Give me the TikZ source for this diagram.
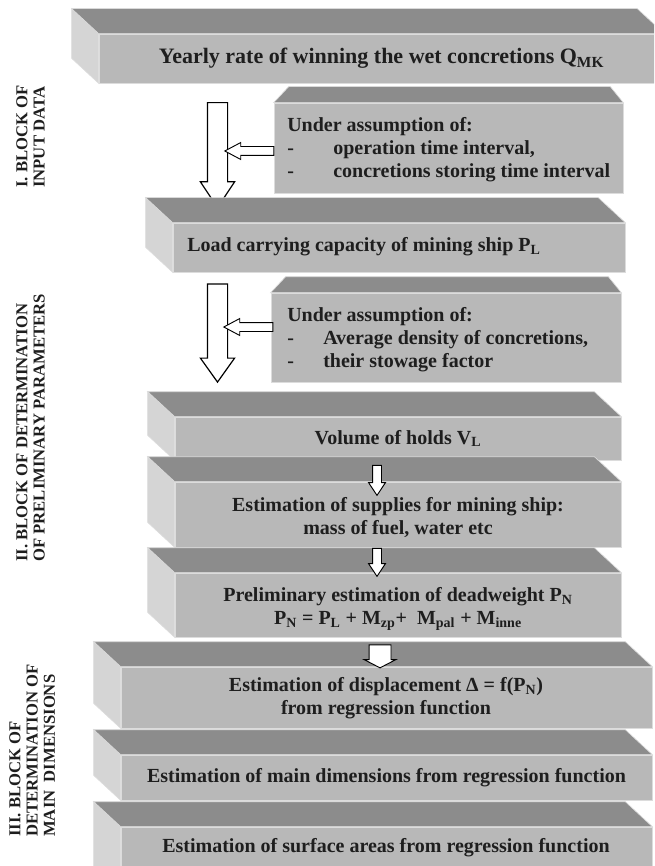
\documentclass[tikz,border=0pt]{standalone}
\usepackage{fontspec}
\setmainfont{Liberation Serif}
\usetikzlibrary{shapes.arrows,fit,calc}
\newcommand{\pxu}{0.75pt}
\definecolor{topgray}{HTML}{8C8C8C}
\definecolor{frontgray}{HTML}{B8B8B8}
\definecolor{sidegray}{HTML}{D5D5D5}
\definecolor{edgegray}{HTML}{DCDCDC}
\definecolor{inkgray}{HTML}{1E1E1E}
\tikzset{
    %faces of the slabs
    front/.style={
           rectangle,
           fill=frontgray,
           draw=edgegray, line width=0.5pt,
           inner sep=0pt},
    topface/.style={
           fill=topgray,
           draw=edgegray, line width=0.5pt},
    sideface/.style={
           fill=sidegray,
           draw=edgegray, line width=0.5pt},
    %text on the slabs
    boxtext/.style={
           font=\fontsize{15}{17.25}\selectfont\bfseries,
           text=inkgray,
           align=center,
           inner sep=0pt},
    listtext/.style={
           boxtext,
           align=left,
           anchor=west},
    blocklabel/.style={
           rotate=90,
           anchor=north west,
           align=left,
           inner sep=0pt,
           font=\fontsize{12.5}{13}\selectfont\bfseries,
           text=inkgray},
    %block arrows
    bigarrow/.style={
           single arrow,
           rotate=-90,
           draw=black, fill=white,
           line width=0.9pt,
           inner xsep=0pt, inner ysep=9.5*\pxu,
           minimum width=0pt,
           single arrow head extend=7*\pxu,
           single arrow head indent=0pt},
    smallarrow/.style={
           single arrow,
           draw=black, fill=white,
           line width=0.7pt,
           inner xsep=0pt, inner ysep=4*\pxu,
           minimum width=0pt,
           single arrow head extend=4*\pxu,
           single arrow head indent=0pt}
}
% slab: front face with top and left faces
\newcommand{\slab}[5]{%
  \node[front, fit={(#2,#3) (#4,#5)}] (#1) {};
  \filldraw[sideface] (#1.north west) -- ++(-27,-25) -- ([shift={(-27,-25)}]#1.south west) -- (#1.south west) -- cycle;
  \filldraw[topface] (#1.north west) -- ++(-27,-25) -- ([shift={(-27,-25)}]#1.north east) -- (#1.north east) -- cycle;
}
% tray: front face with a narrowing top face
\newcommand{\tray}[5]{%
  \node[front, fit={(#2,#3) (#4,#5)}] (#1) {};
  \filldraw[topface] (#1.north west) -- ++(15,-16) -- ([shift={(-13,-16)}]#1.north east) -- (#1.north east) -- cycle;
}
\begin{document}
\begin{tikzpicture}[x=0.75pt,y=-0.75pt]
\useasboundingbox (0,0) rectangle (654,866);
\clip (0,0) rectangle (654,866);
\fill[white] (0,0) rectangle (654,866);
% I. input data
\slab{yearly}{99}{34}{664}{83}
\node[boxtext, font=\fontsize{16.5}{19}\selectfont\bfseries] (yearlytext) at (yearly.center) {Yearly rate of winning the wet concretions Q\textsubscript{MK}};
\tray{assumeA}{274}{103}{623}{193}
\node[listtext] (assumeAtext) at (287,150) {Under assumption of:\\\makebox[34.5pt][l]{-}operation time interval,\\\makebox[34.5pt][l]{-}concretions storing time interval};
\node[bigarrow, minimum height=105*\pxu, single arrow tip angle=67] (flowA) at (217.5,147.5) {};
\node[smallarrow, rotate=180, minimum height=49*\pxu, single arrow tip angle=56] (feedA) at (253.5,151) {};
% II. preliminary parameters
\slab{load}{173}{223}{625}{272}
\node[listtext] (loadtext) at (187,247) {Load carrying capacity of mining ship P\textsubscript{L}};
\tray{assumeB}{271}{293}{621}{382}
\node[listtext] (assumeBtext) at (287,340) {Under assumption of:\\\makebox[27pt][l]{-}Average density of concretions,\\\makebox[27pt][l]{-}their stowage factor};
\node[bigarrow, minimum height=98*\pxu, single arrow tip angle=71] (flowB) at (217.5,326) {};
\node[smallarrow, rotate=180, minimum height=49*\pxu, single arrow tip angle=56] (feedB) at (252.5,327) {};
\slab{holds}{175}{417}{621}{460}
\node[boxtext] (holdstext) at (holds.center) {Volume of holds V\textsubscript{L}};
\slab{supplies}{175}{482}{621}{547}
\node[boxtext] (suppliestext) at (398,518) {Estimation of supplies for mining ship:\\mass of fuel, water etc};
\node[smallarrow, rotate=-90, minimum height=30*\pxu, single arrow tip angle=67] (stepA) at (377,477) {};
\slab{deadweight}{175}{573}{621}{637}
\node[boxtext] (deadweighttext) at (398,609) {Preliminary estimation of deadweight P\textsubscript{N}\\P\textsubscript{N} = P\textsubscript{L} + M\textsubscript{zp}+\ \ M\textsubscript{pal} + M\textsubscript{inne}};
\node[smallarrow, rotate=-90, minimum height=28*\pxu, single arrow tip angle=67] (stepB) at (377,559) {};
% III. main dimensions
\slab{displacement}{121}{667}{652}{728}
\node[boxtext] (displacementtext) at (386,698) {Estimation of displacement Δ = f(P\textsubscript{N})\\from regression function};
\node[smallarrow, rotate=-90, inner ysep=10.5*\pxu, single arrow head extend=5*\pxu, minimum height=23*\pxu, single arrow tip angle=125] (stepC) at (380,653.5) {};
\slab{dimensions}{121}{755}{652}{800}
\node[boxtext] (dimensionstext) at (dimensions.center) {Estimation of main dimensions from regression function};
\slab{surfaces}{121}{827}{652}{900}
\node[boxtext] (surfacestext) at (386,848) {Estimation of surface areas from regression function};
% block labels
\node[blocklabel] (inputlabel) at (16,188) {I. BLOCK OF\\INPUT DATA};
\node[blocklabel] (prelimlabel) at (16,562) {II. BLOCK OF DETERMINATION\\OF PRELIMINARY PARAMETERS};
\node[blocklabel] (mainlabel) at (9,837) {III. BLOCK OF\\DETERMINATION OF\\MAIN\ \ DIMENSIONS};
\end{tikzpicture}
\end{document}
